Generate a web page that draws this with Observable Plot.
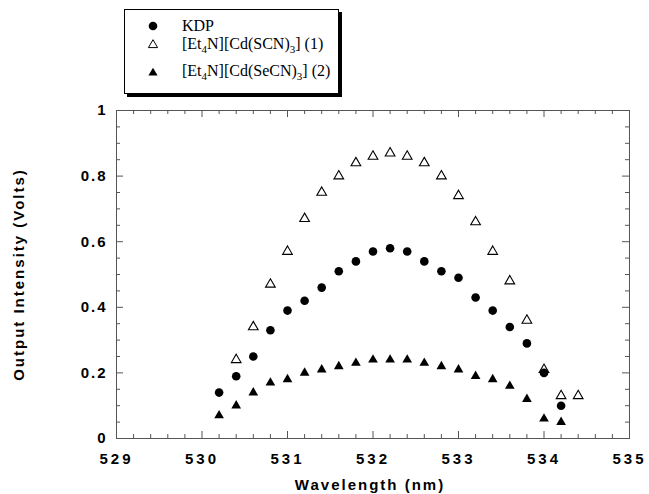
<!DOCTYPE html>
<html>
<head>
<meta charset="utf-8">
<script src="https://cdn.jsdelivr.net/npm/d3@7"></script>
<script src="https://cdn.jsdelivr.net/npm/@observablehq/plot@0.6"></script>
<style>
  body { margin: 0; background: #fff; }
  #wrap { position: relative; width: 649px; height: 494px; }
  #chart svg text { letter-spacing: 2px; }
  #chart g[aria-label="x-axis tick label"] text { letter-spacing: 3px; }
  #chart g[aria-label="title"] text { word-spacing: 4px; }
  #legend {
    position: absolute; left: 124px; top: 9px; width: 213px; height: 83px;
    border: 1px solid #000; box-shadow: 3px 3px 0 #000; background: #fff;
    font-family: "Liberation Serif", "Times New Roman", serif; font-size: 16px; color: #000;
    line-height: 16px;
  }
  .sym { position: absolute; left: 22px; width: 12px; height: 12px; }
  .lab { position: absolute; left: 57px; white-space: nowrap; }
  .lab sub { font-size: 11px; vertical-align: -4px; line-height: 0; }
</style>
</head>
<body>
<div id="wrap">
  <div id="chart"></div>
  <div id="legend">
    <svg class="sym" style="top:10px" viewBox="-6 -6 12 12"><circle r="4.3" fill="#000"/></svg>
    <span class="lab" style="top:8px">KDP</span>
    <svg class="sym" style="top:28px" viewBox="-6 -6 12 12"><polygon points="0,-4.3 4.6,3.6 -4.6,3.6" fill="#fff" stroke="#000" stroke-width="1"/></svg>
    <span class="lab" style="top:26px">[Et<sub>4</sub>N][Cd(SCN)<sub>3</sub>] (1)</span>
    <svg class="sym" style="top:56px" viewBox="-6 -6 12 12"><polygon points="0,-4.3 4.6,3.6 -4.6,3.6" fill="#000"/></svg>
    <span class="lab" style="top:53px">[Et<sub>4</sub>N][Cd(SeCN)<sub>3</sub>] (2)</span>
  </div>
</div>
<script>
// Wavelength (nm)
const kdpX  = [530.2,530.4,530.6,530.8,531.0,531.2,531.4,531.6,531.8,532.0,532.2,532.4,532.6,532.8,533.0,533.2,533.4,533.6,533.8,534.0,534.2];
const kdpY  = [0.14,0.19,0.25,0.33,0.39,0.42,0.46,0.51,0.54,0.57,0.58,0.57,0.54,0.51,0.49,0.43,0.39,0.34,0.29,0.20,0.10];
const scnX  = [530.4,530.6,530.8,531.0,531.2,531.4,531.6,531.8,532.0,532.2,532.4,532.6,532.8,533.0,533.2,533.4,533.6,533.8,534.0,534.2,534.4];
const scnY  = [0.24,0.34,0.47,0.57,0.67,0.75,0.80,0.84,0.86,0.87,0.86,0.84,0.80,0.74,0.66,0.57,0.48,0.36,0.21,0.13,0.13];
const secnX = [530.2,530.4,530.6,530.8,531.0,531.2,531.4,531.6,531.8,532.0,532.2,532.4,532.6,532.8,533.0,533.2,533.4,533.6,533.8,534.0,534.2];
const secnY = [0.07,0.10,0.14,0.17,0.18,0.20,0.21,0.22,0.23,0.24,0.24,0.24,0.23,0.22,0.21,0.19,0.18,0.16,0.12,0.06,0.05];

const xTicks = [529,530,531,532,533,534,535];
const yTicks = [0,0.2,0.4,0.6,0.8,1];
const xMinor = d3.range(529.2, 535, 0.2).filter(v => Math.abs(v - Math.round(v)) > 0.01);
const yMinor = d3.range(0.05, 1, 0.05).filter(v => Math.abs(v*5 - Math.round(v*5)) > 0.01);

const xTitle = "Wavelength (nm)";
const yTitle = "Output Intensity (Volts)";

const kdp  = kdpX.map((x, i) => ({x, y: kdpY[i]}));
const scn  = scnX.map((x, i) => ({x, y: scnY[i]}));
const secn = secnX.map((x, i) => ({x, y: secnY[i]}));

const W = 649, H = 494, ML = 116, MR = 20, MT = 110, MB = 56;
const PW = W - ML - MR, PH = H - MT - MB;
const tickColor = "#555";

const chart = Plot.plot({
  width: W, height: H,
  marginLeft: ML, marginRight: MR, marginTop: MT, marginBottom: MB,
  style: "font-family: 'Liberation Sans', Arial, sans-serif; background: #fff; color: #000; overflow: visible;",
  x: {domain: [529, 535]},
  y: {domain: [0, 1]},
  marks: [
    Plot.frame({stroke: tickColor, strokeWidth: 1}),
    Plot.tickX(xTicks, {x: d => d, insetTop: PH - 7, stroke: tickColor}),
    Plot.tickX(xTicks, {x: d => d, insetBottom: PH - 7, stroke: tickColor}),
    Plot.tickX(xMinor, {x: d => d, insetTop: PH - 4, stroke: tickColor}),
    Plot.tickX(xMinor, {x: d => d, insetBottom: PH - 4, stroke: tickColor}),
    Plot.tickY(yTicks, {y: d => d, insetRight: PW - 7, stroke: tickColor}),
    Plot.tickY(yTicks, {y: d => d, insetLeft: PW - 7, stroke: tickColor}),
    Plot.tickY(yMinor, {y: d => d, insetRight: PW - 4, stroke: tickColor}),
    Plot.tickY(yMinor, {y: d => d, insetLeft: PW - 4, stroke: tickColor}),
    Plot.axisX({ticks: xTicks, tickSize: 0, tickPadding: 15, fontSize: 15, fontWeight: "bold", label: null, tickFormat: d => String(d)}),
    Plot.axisY({ticks: yTicks, tickSize: 0, tickPadding: 9, fontSize: 15, fontWeight: "bold", label: null, tickFormat: d => String(d)}),
    Plot.text([xTitle], {text: d => d, frameAnchor: "bottom", textAnchor: "middle", lineAnchor: "middle", dy: 47, dx: -3, fontSize: 15, fontWeight: "bold", ariaLabel: "title"}),
    Plot.text([yTitle], {text: d => d, frameAnchor: "left", textAnchor: "middle", lineAnchor: "middle", dx: -97, rotate: -90, fontSize: 15, fontWeight: "bold", ariaLabel: "title"}),
    Plot.dot(secn, {x: "x", y: "y", symbol: "triangle", r: 3.6, fill: "#000", stroke: "none"}),
    Plot.dot(scn, {x: "x", y: "y", symbol: "triangle", r: 3.6, fill: "#fff", stroke: "#000", strokeWidth: 1.1}),
    Plot.dot(kdp, {x: "x", y: "y", symbol: "circle", r: 4.3, fill: "#000", stroke: "none"})
  ]
});
document.getElementById("chart").appendChild(chart);
</script>
</body>
</html>
